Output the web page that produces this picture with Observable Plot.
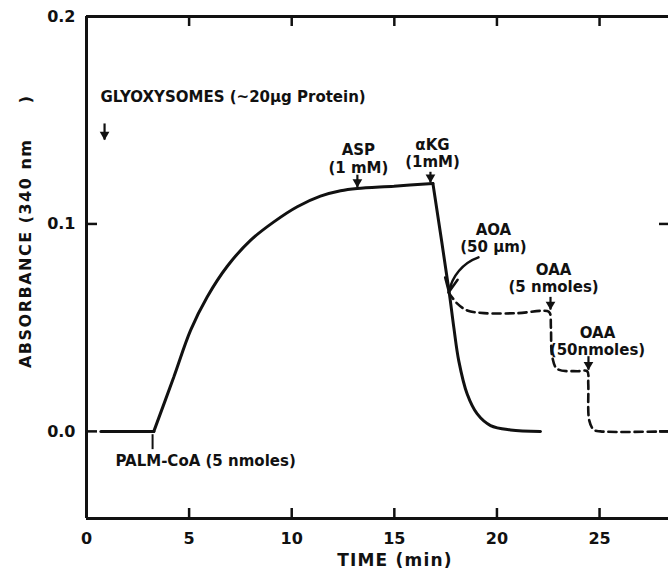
<!DOCTYPE html>
<html><head><meta charset="utf-8">
<script src="https://cdn.jsdelivr.net/npm/d3@7"></script>
<script src="https://cdn.jsdelivr.net/npm/@observablehq/plot@0.6"></script>
<style>
html,body{margin:0;padding:0;background:#fff;overflow:hidden}
svg{display:block}
</style>
</head><body><div id="chart"></div>
<script>
// ---- axes ----
const xTicks = [0, 5, 10, 15, 20, 25];
const xInnerTicks = [5, 10, 15, 20, 25];
const yTicks = [0, 0.1, 0.2];
const yInnerTicks = [0, 0.1];
const xDomain = [0, 28.36];
const yDomain = [-0.042, 0.2];
const xLabel = "TIME (min)";
const yLabel = "ABSORBANCE (340 nm\u00a0\u00a0\u00a0\u00a0\u00a0)";

// ---- solid trace (time, absorbance, segment) ----
const solidT = [0.7, 3.28,   3.28, 4.25, 5.07, 5.88, 6.86, 7.99, 9.13, 10.27, 11.40, 12.38, 13.19, 14.98, 16.88,   16.88, 17.66, 17.90, 18.14, 18.55, 19.04, 19.69, 20.66, 22.12];
const solidV = [0,   0,      0,    0.0261, 0.0487, 0.0648, 0.0796, 0.0921, 0.1010, 0.1083, 0.1134, 0.1160, 0.1171, 0.1182, 0.1195,   0.1195, 0.068, 0.050, 0.034, 0.018, 0.0084, 0.0028, 0.0007, 0];
const solidSeg = ["base","base", "rise","rise","rise","rise","rise","rise","rise","rise","rise","rise","rise","rise","rise", "drop","drop","drop","drop","drop","drop","drop","drop","drop"];

// ---- dashed trace (after AOA) ----
const dashT = [17.64, 18.07, 18.55, 19.37, 20.99, 22.45, 22.58, 22.63, 22.70, 22.94, 23.91, 24.40, 24.45, 24.50, 24.72, 25.05, 28.36];
const dashV = [0.067, 0.0616, 0.0583, 0.0570, 0.0570, 0.0580, 0.0570, 0.050, 0.0357, 0.0301, 0.0290, 0.0290, 0.0229, 0.0052, 0.0008, 0, 0];

// ---- annotations ----
const noteText = ["GLYOXYSOMES (~20\u03bcg Protein)", "ASP", "(1 mM)", "\u03b1KG", "(1mM)", "AOA", "(50 \u03bcm)", "OAA", "(5 nmoles)", "OAA", "(50nmoles)", "PALM-CoA (5 nmoles)"];
const noteX = [0.68, 13.25, 13.25, 16.86, 16.86, 19.83, 19.83, 22.76, 22.76, 24.9, 24.9, 1.41];
const noteY = [0.1612, 0.1356, 0.1269, 0.1380, 0.1298, 0.0970, 0.0887, 0.0776, 0.0694, 0.0472, 0.0390, -0.0142];
const noteAnchor = ["start", "middle", "middle", "middle", "middle", "middle", "middle", "middle", "middle", "middle", "middle", "start"];

// ---- addition arrows (straight, filled head) ----
const arrowX  = [0.88, 13.2, 16.76, 22.61, 24.46];
const arrowY1 = [0.1482, 0.1235, 0.1249, 0.0646, 0.0360];
const arrowY2 = [0.1404, 0.1175, 0.1198, 0.0585, 0.0295];

// AOA curved arrow
const aoaArrow = {x1: 19.10, y1: 0.0839, x2: 17.66, y2: 0.0672};
// PALM-CoA addition mark
const palmX = 3.22, palmY1 = -0.0016, palmY2 = -0.0088;

const W = 668, H = 576;
const mTop = 16, mBottom = 58, mLeft = 86, mRight = 0;
const plotH = H - mTop - mBottom, plotW = W - mLeft - mRight;

const solid = solidT.map((t, i) => ({t, v: solidV[i], seg: solidSeg[i]}));
const dashed = dashT.map((t, i) => ({t, v: dashV[i]}));
const notes = noteText.map((s, i) => ({s, x: noteX[i], y: noteY[i], a: noteAnchor[i]}));
const arrows = arrowX.map((x, i) => ({x, y1: arrowY1[i], y2: arrowY2[i]}));

const ink = "#111";
const font = "DejaVu Sans";

const chart = Plot.plot({
  width: W, height: H,
  marginTop: mTop, marginBottom: mBottom, marginLeft: mLeft, marginRight: mRight,
  x: {domain: xDomain},
  y: {domain: yDomain},
  style: {fontFamily: font, fontWeight: "bold", background: "#fff", color: ink},
  marks: [
    // frame
    Plot.ruleX([0], {stroke: ink, strokeWidth: 3}),
    Plot.ruleY([yDomain[1]], {stroke: ink, strokeWidth: 3}),
    Plot.ruleY([yDomain[0]], {stroke: ink, strokeWidth: 3}),
    // inward ticks
    Plot.ruleX(xInnerTicks, {stroke: ink, strokeWidth: 2.5, insetTop: plotH - 10}),
    Plot.ruleX(xInnerTicks, {stroke: ink, strokeWidth: 2.5, insetBottom: plotH - 10}),
    Plot.ruleY(yInnerTicks, {stroke: ink, strokeWidth: 2.5, insetRight: plotW - 11}),
    Plot.ruleY(yInnerTicks, {stroke: ink, strokeWidth: 2.5, insetLeft: plotW - 9}),
    // tick labels
    Plot.axisX(xTicks, {tickSize: 0, tickPadding: 14, fontSize: 16, fontWeight: "bold", label: null, tickFormat: d => String(d)}),
    Plot.axisY(yTicks, {tickSize: 0, tickPadding: 11, fontSize: 16, fontWeight: "bold", label: null, tickFormat: d3.format(".1f")}),
    // axis titles
    Plot.text([xLabel], {x: 15.03, frameAnchor: "bottom", dy: 47, fontSize: 17, fontWeight: "bold", fill: ink}),
    Plot.text([yLabel], {y: 0.0965, frameAnchor: "left", textAnchor: "middle", dx: -61, rotate: -90, fontSize: 16, fontWeight: "bold", fill: ink}),
    // traces
    Plot.line(solid, {x: "t", y: "v", z: "seg", curve: "catmull-rom", stroke: ink, strokeWidth: 3, strokeLinejoin: "miter"}),
    Plot.line(dashed, {x: "t", y: "v", curve: "catmull-rom", stroke: ink, strokeWidth: 2.6, strokeDasharray: "8,5"}),
    // addition arrows
    Plot.ruleX(arrows, {x: "x", y1: "y1", y2: "y2", stroke: ink, strokeWidth: 2.2}),
    Plot.dot(arrows, {x: "x", y: "y2", symbol: "triangle", rotate: 180, r: 3.6, dy: -5.5, fill: ink, stroke: null}),
    Plot.arrow([aoaArrow], {x1: "x1", y1: "y1", x2: "x2", y2: "y2", bend: -30, stroke: ink, strokeWidth: 2.5, headLength: 9, headAngle: 50}),
    Plot.ruleX([palmX], {y1: palmY1, y2: palmY2, stroke: ink, strokeWidth: 2}),
    // annotation text
    Plot.text(notes.filter(d => d.a === "start"), {x: "x", y: "y", text: "s", textAnchor: "start", fontSize: 15, fontWeight: "bold", fill: ink}),
    Plot.text(notes.filter(d => d.a === "middle"), {x: "x", y: "y", text: "s", textAnchor: "middle", fontSize: 15, fontWeight: "bold", fill: ink})
  ]
});
d3.select(chart).selectAll("text").filter(function() { return this.textContent === yLabel; }).style("letter-spacing", "1.5px");
d3.select(chart).selectAll("text").filter(function() { return this.textContent === xLabel; }).style("letter-spacing", "1.2px");
document.getElementById("chart").appendChild(chart);
</script>
</body></html>
